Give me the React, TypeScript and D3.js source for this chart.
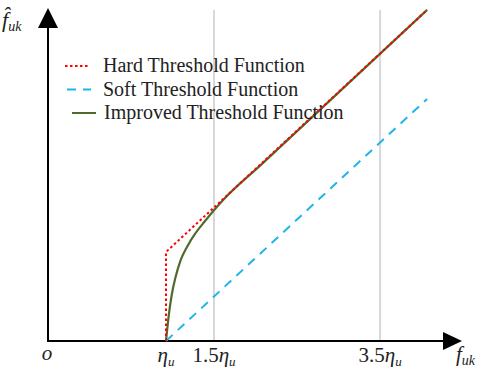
import React from "react";
import * as d3 from "d3";

// values in units of eta_u (x) and of the output (y)
const hardData: [number, number][] = [[1, 0], [1, 1], [3.72, 3.72]];
const softData: [number, number][] = [[1, 0], [3.72, 2.72]];
const improvedData: [number, number][] = [
  [1, 0], [1.03, 0.3], [1.06, 0.52], [1.1, 0.72], [1.15, 0.9], [1.22, 1.06],
  [1.3, 1.2], [1.4, 1.34], [1.5, 1.47], [1.6, 1.59], [2, 1.99], [3.72, 3.72],
];
const gridValues = [1.5, 3.23];
const tickValues = [1, 1.5, 3.23];
const tickLabels = [["", "η", "u"], ["1.5", "η", "u"], ["3.5", "η", "u"]];
const legendNames = ["Hard Threshold Function", "Soft Threshold Function", "Improved Threshold Function"];

const serif = "'Liberation Serif', 'Times New Roman', serif";

export default function App() {
  const W = 480, H = 374;
  const x0 = 48, y0 = 341;
  const x = d3.scaleLinear().domain([1, 1.5]).range([166, 214]);
  const y = d3.scaleLinear().domain([0, 1]).range([y0, 252]);
  const line = d3.line<[number, number]>().x(d => x(d[0])).y(d => y(d[1]));
  const smooth = d3.line<[number, number]>().x(d => x(d[0])).y(d => y(d[1])).curve(d3.curveMonotoneX);

  const legend = [
    { name: legendNames[0], color: "#ff0000", dash: "2.5,2.5", x1: 65, x2: 89 },
    { name: legendNames[1], color: "#1fb4ea", dash: "9,7", x1: 67, x2: 91 },
    { name: legendNames[2], color: "#4f6a2c", dash: null, x1: 72, x2: 96 },
  ];

  return (
    <svg width={W} height={H} style={{ position: "absolute", left: 0, top: 0 }}>
      <rect width={W} height={H} fill="#fff" />
      {gridValues.map((v, i) => (
        <line key={i} x1={x(v)} x2={x(v)} y1={10} y2={y0} stroke="#d8d8d8" strokeWidth={2} />
      ))}
      {/* axes */}
      <line x1={x0} x2={446} y1={y0} y2={y0} stroke="#000" strokeWidth={2} />
      <polygon points={`462,${y0} 443,${y0 - 9} 443,${y0 + 9}`} fill="#000" />
      <line x1={x0} x2={x0} y1={y0 + 1} y2={26} stroke="#000" strokeWidth={2} />
      <polygon points={`${x0},8 ${x0 - 10},28 ${x0 + 10},28`} fill="#000" />

      <path d={line(softData) ?? ""} fill="none" stroke="#1fb4ea" strokeWidth={2} strokeDasharray="9,7" />
      <path d={smooth(improvedData) ?? ""} fill="none" stroke="#4f6a2c" strokeWidth={2.2} />
      <path d={line(hardData) ?? ""} fill="none" stroke="#ff0000" strokeWidth={2} strokeDasharray="2.5,2.5" />

      {legend.map((l, i) => (
        <g key={i} transform={`translate(0,${66 + i * 23.5})`}>
          <line x1={l.x1} x2={l.x2} y1={0} y2={0} stroke={l.color} strokeWidth={2}
            strokeDasharray={l.dash ?? undefined} />
          <text x={103 + (i === 2 ? 1 : 0)} y={6} fontFamily={serif} fontSize={20} fill="#222">{l.name}</text>
        </g>
      ))}

      {/* tick labels */}
      {tickValues.map((v, i) => (
        <text key={i} x={x(v)} y={362} textAnchor="middle" fontFamily={serif} fontSize={21} fill="#222">
          {tickLabels[i][0]}
          <tspan fontStyle="italic">{tickLabels[i][1]}</tspan>
          <tspan fontStyle="italic" fontSize={13} dy={4}>{tickLabels[i][2]}</tspan>
        </text>
      ))}
      <text x={47} y={360} textAnchor="middle" fontFamily={serif} fontSize={21} fontStyle="italic" fill="#222">o</text>
      <text x={456} y={361} fontFamily={serif} fontSize={21} fontStyle="italic" fill="#222">
        f<tspan fontSize={14} dy={4}>uk</tspan>
      </text>
      <text x={2} y={27} fontFamily={serif} fontSize={22} fontStyle="italic" fill="#222">
        {"f\u0302"}<tspan fontSize={14} dy={4}>uk</tspan>
      </text>
    </svg>
  );
}
